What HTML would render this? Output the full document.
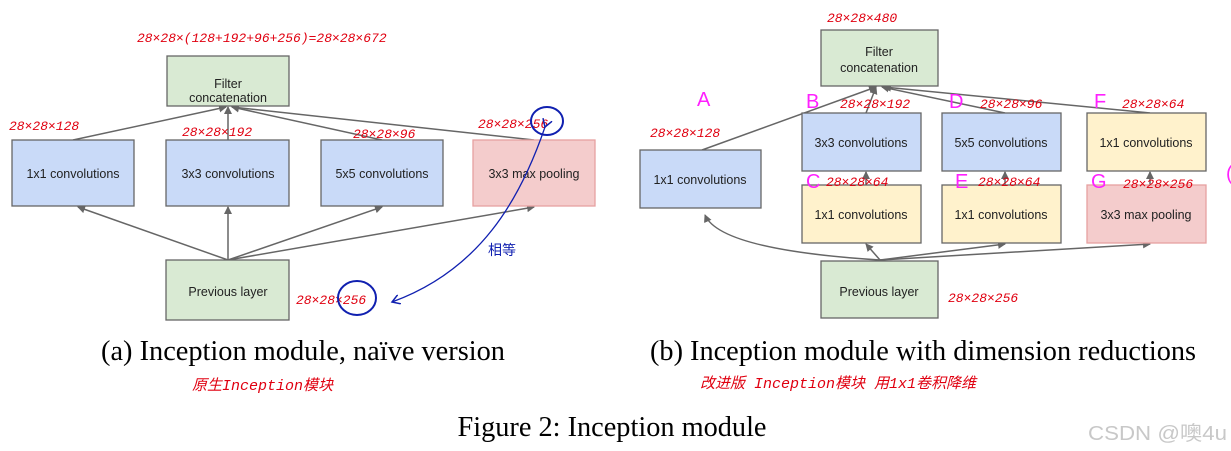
<!DOCTYPE html>
<html><head><meta charset="utf-8"><style>
html,body{margin:0;padding:0;background:#fff;width:1231px;height:451px;overflow:hidden}
svg{display:block}
.b{font-family:"Liberation Sans",sans-serif;font-size:12.5px;fill:#222}
.h{font-family:"Liberation Mono","Noto Sans CJK SC",monospace;font-size:13px;fill:#e00010;font-style:italic}
.m{font-family:"Liberation Sans",sans-serif;font-size:20px;fill:#ff20ff}
.c{font-family:"Liberation Serif",serif;font-size:28px;fill:#000}
</style></head><body>
<svg width="1231" height="451" viewBox="0 0 1231 451">
<defs><marker id="a" markerWidth="8" markerHeight="8" refX="7" refY="4" orient="auto" markerUnits="userSpaceOnUse"><path d="M0,0 L8,4 L0,8 z" fill="#666"/></marker>
<marker id="bl" markerWidth="10" markerHeight="10" refX="8" refY="5" orient="auto" markerUnits="userSpaceOnUse"><path d="M0,0 L8,5 L0,10" fill="none" stroke="#1020b0" stroke-width="1.5"/></marker></defs>
<g stroke="#666" stroke-width="1.5" fill="none">
<line x1="228" y1="260" x2="78" y2="207" marker-end="url(#a)"/>
<line x1="228" y1="260" x2="228" y2="207" marker-end="url(#a)"/>
<line x1="228" y1="260" x2="382" y2="207" marker-end="url(#a)"/>
<line x1="228" y1="260" x2="534" y2="207" marker-end="url(#a)"/>
<line x1="73" y1="140" x2="226" y2="107" marker-end="url(#a)"/>
<line x1="228" y1="140" x2="228" y2="107" marker-end="url(#a)"/>
<line x1="382" y1="140" x2="232" y2="107" marker-end="url(#a)"/>
<line x1="534" y1="140" x2="232" y2="107" marker-end="url(#a)"/>
<path d="M880,260 Q720,250 705,215" marker-end="url(#a)"/>
<line x1="880" y1="260" x2="866" y2="244" marker-end="url(#a)"/>
<line x1="880" y1="260" x2="1005" y2="244" marker-end="url(#a)"/>
<line x1="880" y1="260" x2="1150" y2="244" marker-end="url(#a)"/>
<line x1="866" y1="185" x2="866" y2="172" marker-end="url(#a)"/>
<line x1="1005" y1="185" x2="1005" y2="172" marker-end="url(#a)"/>
<line x1="1150" y1="185" x2="1150" y2="172" marker-end="url(#a)"/>
<line x1="702" y1="150" x2="876" y2="87" marker-end="url(#a)"/>
<line x1="866" y1="113" x2="876" y2="87" marker-end="url(#a)"/>
<line x1="1005" y1="113" x2="882" y2="87" marker-end="url(#a)"/>
<line x1="1150" y1="113" x2="884" y2="87" marker-end="url(#a)"/>
</g>
<g stroke="#666" stroke-width="1.3">
<rect x="167" y="56" width="122" height="50" fill="#d9ead3"/>
<rect x="12" y="140" width="122" height="66" fill="#c9daf8"/>
<rect x="166" y="140" width="123" height="66" fill="#c9daf8"/>
<rect x="321" y="140" width="122" height="66" fill="#c9daf8"/>
<rect x="473" y="140" width="122" height="66" fill="#f4cccc" stroke="#e6a0a0"/>
<rect x="166" y="260" width="123" height="60" fill="#d9ead3"/>
<rect x="821" y="30" width="117" height="56" fill="#d9ead3"/>
<rect x="640" y="150" width="121" height="58" fill="#c9daf8"/>
<rect x="802" y="113" width="119" height="58" fill="#c9daf8"/>
<rect x="942" y="113" width="119" height="58" fill="#c9daf8"/>
<rect x="1087" y="113" width="119" height="58" fill="#fff2cc"/>
<rect x="802" y="185" width="119" height="58" fill="#fff2cc"/>
<rect x="942" y="185" width="119" height="58" fill="#fff2cc"/>
<rect x="1087" y="185" width="119" height="58" fill="#f4cccc" stroke="#e6a0a0"/>
<rect x="821" y="261" width="117" height="57" fill="#d9ead3"/>
</g>
<g class="b" text-anchor="middle">
<text x="228" y="88">Filter</text><text x="228" y="106" dy="-4">concatenation</text>
<text x="73" y="178">1x1 convolutions</text>
<text x="228" y="178">3x3 convolutions</text>
<text x="382" y="178">5x5 convolutions</text>
<text x="534" y="178">3x3 max pooling</text>
<text x="228" y="296">Previous layer</text>
<text x="879" y="56">Filter</text><text x="879" y="72">concatenation</text>
<text x="700" y="184">1x1 convolutions</text>
<text x="861" y="147">3x3 convolutions</text>
<text x="1001" y="147">5x5 convolutions</text>
<text x="1146" y="147">1x1 convolutions</text>
<text x="861" y="219">1x1 convolutions</text>
<text x="1001" y="219">1x1 convolutions</text>
<text x="1146" y="219">3x3 max pooling</text>
<text x="879" y="296">Previous layer</text>
</g>
<g class="h">
<text x="137" y="42">28×28×(128+192+96+256)=28×28×672</text>
<text x="9" y="130">28×28×128</text>
<text x="182" y="136">28×28×192</text>
<text x="353" y="138">28×28×96</text>
<text x="478" y="128">28×28×256</text>
<text x="296" y="304">28×28×256</text>
<text x="827" y="22">28×28×480</text>
<text x="650" y="137">28×28×128</text>
<text x="840" y="108">28×28×192</text>
<text x="980" y="108">28×28×96</text>
<text x="1122" y="108">28×28×64</text>
<text x="826" y="186">28×28×64</text>
<text x="978" y="186">28×28×64</text>
<text x="1123" y="188">28×28×256</text>
<text x="948" y="302">28×28×256</text>
<text x="192" y="390" style="font-size:15px">原生Inception模块</text>
<text x="700" y="388" style="font-size:15px">改进版 Inception模块 用1x1卷积降维</text>
</g>
<g class="m">
<text x="697" y="106">A</text><text x="806" y="108">B</text><text x="806" y="188">C</text>
<text x="949" y="108">D</text><text x="955" y="188">E</text><text x="1094" y="108">F</text><text x="1091" y="188">G</text>
<text x="1226" y="180">(</text>
</g>
<g fill="none" stroke="#1020b0" stroke-width="2">
<ellipse cx="547" cy="121" rx="16" ry="14"/>
<ellipse cx="357" cy="298" rx="19" ry="17"/>
<path d="M545,127 C520,200 480,270 392,302" stroke-width="1.3" marker-end="url(#bl)" marker-start="url(#bl)"/>
</g>
<text x="488" y="255" style="font-family:'Noto Sans CJK SC',sans-serif;font-size:14px;fill:#1020b0">相等</text>
<g class="c">
<text x="303" y="360" text-anchor="middle" textLength="404" lengthAdjust="spacingAndGlyphs">(a)  Inception module, naïve version</text>
<text x="923" y="360" text-anchor="middle" textLength="546" lengthAdjust="spacingAndGlyphs">(b)  Inception module with dimension reductions</text>
<text x="612" y="436" text-anchor="middle" textLength="309" lengthAdjust="spacingAndGlyphs">Figure 2: Inception module</text>
</g>
<text x="1088" y="440" textLength="139" lengthAdjust="spacingAndGlyphs" style="font-family:'Liberation Sans','Noto Sans CJK SC',sans-serif;font-size:20px;fill:#c8c8c8">CSDN @噢4u</text>
</svg>
</body></html>
